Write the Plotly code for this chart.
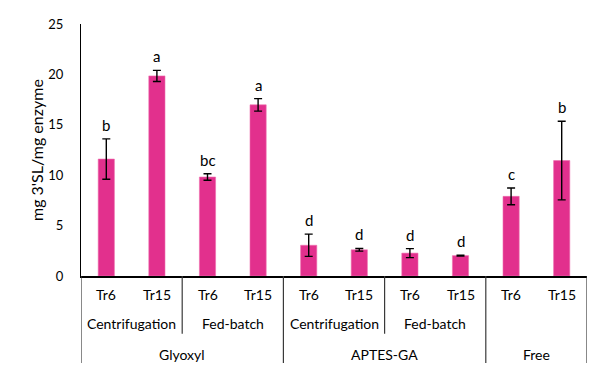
import plotly.graph_objects as go

# ---- data ----
treatments = ["Tr6", "Tr15", "Tr6", "Tr15", "Tr6", "Tr15", "Tr6", "Tr15", "Tr6", "Tr15"]
methods = ["Centrifugation", "Fed-batch", "Centrifugation", "Fed-batch"]
supports = ["Glyoxyl", "APTES-GA", "Free"]
values = [11.6, 19.85, 9.82, 16.98, 3.05, 2.6, 2.27, 2.02, 7.9, 11.45]
errors = [2.0, 0.55, 0.32, 0.62, 1.1, 0.13, 0.45, 0.05, 0.83, 3.9]
letters = ["b", "a", "bc", "a", "d", "d", "d", "d", "c", "b"]
y_ticks = [0, 5, 10, 15, 20, 25]
y_title = "mg 3'SL/mg enzyme"

FONT = "Lato, Carlito, Calibri, sans-serif"
BAR = "#E2308D"
LINE = "#3a3a3a"

xpos = list(range(len(values)))

fig = go.Figure()
fig.add_trace(go.Bar(
    x=xpos, y=values, width=0.32,
    marker=dict(color=BAR, line=dict(color="#EE6FAF", width=0.6)),
    error_y=dict(type="data", array=errors, visible=True,
                 color="black", thickness=1.4, width=4),
    showlegend=False, hoverinfo="y",
))

annotations = []
# significance letters
for i, (v, e, l) in enumerate(zip(values, errors, letters)):
    annotations.append(dict(x=i, y=v + e, xref="x", yref="y", text=l,
                            showarrow=False, yanchor="bottom", yshift=3,
                            font=dict(family=FONT, size=15, color="black")))

# hierarchical category labels
row1, row2, row3 = -0.074, -0.19, -0.312
for i, t in enumerate(treatments):
    annotations.append(dict(x=i, y=row1, xref="x", yref="paper", text=t,
                            showarrow=False, yanchor="middle",
                            font=dict(family=FONT, size=14, color="black")))
for k, m in enumerate(methods):
    annotations.append(dict(x=2 * k + 0.5, y=row2, xref="x", yref="paper", text=m,
                            showarrow=False, yanchor="middle",
                            font=dict(family=FONT, size=14, color="black")))
support_centers = [1.5, 5.5, 8.5]
for c, s in zip(support_centers, supports):
    annotations.append(dict(x=c, y=row3, xref="x", yref="paper", text=s,
                            showarrow=False, yanchor="middle",
                            font=dict(family=FONT, size=14, color="black")))

# y-axis title
annotations.append(dict(x=0, y=0.5, xref="paper", yref="paper", text=y_title,
                        textangle=-90, showarrow=False, xanchor="center",
                        yanchor="middle", xshift=-45,
                        font=dict(family=FONT, size=16, color="black")))

shapes = []
long_bottom, short_bottom = -0.345, -0.229
for xv in [-0.5, 3.5, 7.5, 9.5]:
    shapes.append(dict(type="line", xref="x", yref="paper", x0=xv, x1=xv,
                       y0=0, y1=long_bottom, line=dict(color=LINE, width=1.2)))
for xv in [1.5, 5.5]:
    shapes.append(dict(type="line", xref="x", yref="paper", x0=xv, x1=xv,
                       y0=0, y1=short_bottom, line=dict(color=LINE, width=1.2)))

# page body has an 8px default margin: size/margins compensate for it
fig.update_layout(
    width=592, height=359,
    margin=dict(l=73, r=13, t=16, b=91, autoexpand=False),
    paper_bgcolor="white", plot_bgcolor="white",
    font=dict(family=FONT, size=14, color="black"),
    annotations=annotations, shapes=shapes,
)
fig.update_xaxes(range=[-0.5, 9.5], showticklabels=False, showgrid=False,
                 zeroline=False, showline=True, linecolor="black", linewidth=2,
                 ticks="", automargin=False)
fig.update_yaxes(range=[0, 25], tickvals=y_ticks, showgrid=False, zeroline=False,
                 showline=True, linecolor="black", linewidth=1.2, ticks="",
                 ticklabelstandoff=14, automargin=False,
                 tickfont=dict(family=FONT, size=13))

fig.write_html("out.html")
